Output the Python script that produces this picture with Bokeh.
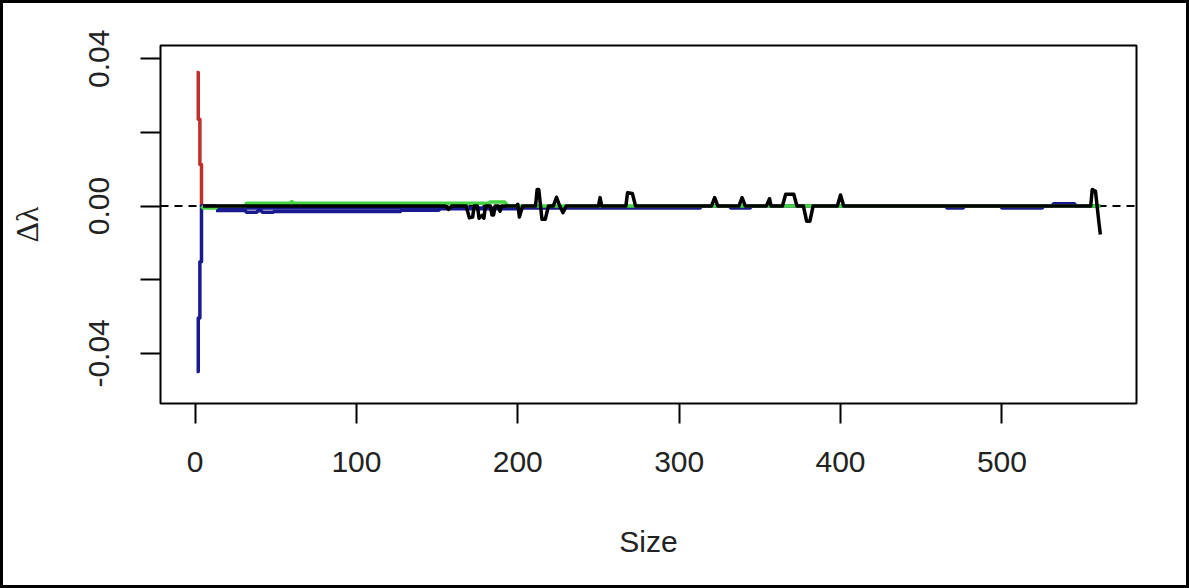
from bokeh.plotting import figure
from bokeh.models import Range1d, Span, FixedTicker
from bokeh.embed import file_html
from bokeh.resources import INLINE

# ---- data ----
red_x = [1, 2, 2, 3, 3, 4, 4, 5]
red_y = [0.0363, 0.0363, 0.0236, 0.0236, 0.0113, 0.0113, 0.0, 0.0]

blue_x = [1, 2, 2, 3, 3, 4, 4, 5, 13, 14, 313, 314, 331, 332, 344, 345, 465, 466,
          476, 477, 499, 500, 525, 526, 531, 532, 545, 546, 561]
blue_y = [-0.0449, -0.0449, -0.0304, -0.0304, -0.0151, -0.0151, 0.0, 0.0, 0.0,
          -0.0005, -0.0005, 0.0, 0.0, -0.0005, -0.0005, 0.0, 0.0, -0.0005, -0.0005,
          0.0, 0.0, -0.0005, -0.0005, 0.0, 0.0, 0.0006, 0.0006, 0.0, 0.0]

blue2_x = [13, 31, 32, 38, 39, 41, 42, 48, 49, 127, 128, 151, 152, 200, 201]
blue2_y = [-0.0012, -0.0012, -0.0017, -0.0017, -0.0013, -0.0013, -0.0017, -0.0017,
           -0.0015, -0.0015, -0.0011, -0.0011, -0.0007, -0.0007, 0.0]

green_x = [4, 5, 13, 14, 31, 32, 59, 60, 61, 150, 182, 183, 192, 194, 561]
green_y = [0.0, -0.0005, -0.0005, 0.0, 0.0, 0.0008, 0.0008, 0.0012, 0.0008, 0.0008,
           0.0008, 0.0011, 0.0011, 0.0, 0.0]

black_x = [5, 155, 157, 159, 168, 170, 172, 173, 175, 176, 178, 179, 180, 183, 184,
           185, 186, 188, 189, 190, 199, 200, 201, 203, 211, 212, 213, 215, 217, 219,
           222, 224, 226, 228, 230, 250, 251, 252, 267, 268, 271, 273, 320, 322, 324,
           337, 339, 341, 354, 356, 357, 364, 366, 371, 373, 377, 379, 381, 383, 398,
           400, 402, 555, 556, 558, 559, 560, 561]
black_y = [0.0, 0.0, -0.0009, 0.0, 0.0, -0.0032, -0.0030, 0.0, 0.0, -0.0033, -0.0025,
           -0.0033, 0.0, 0.0, -0.0024, -0.0024, 0.0, 0.0, -0.0014, 0.0, 0.0, 0.0005,
           -0.0030, 0.0, 0.0, 0.0045, 0.0045, -0.0036, -0.0036, 0.0, 0.0, 0.0024, 0.0,
           -0.0018, 0.0, 0.0, 0.0023, 0.0, 0.0, 0.0036, 0.0034, 0.0, 0.0, 0.0023, 0.0,
           0.0, 0.0023, 0.0, 0.0, 0.0020, 0.0, 0.0, 0.0032, 0.0032, 0.0, 0.0, -0.0041,
           -0.0041, 0.0, 0.0, 0.0030, 0.0, 0.0, 0.0045, 0.0040, 0.0, -0.0040, -0.0077]

x_ticks = [0, 100, 200, 300, 400, 500]
y_ticks = [-0.04, -0.02, 0.0, 0.02, 0.04]
y_tick_labels = {-0.04: "-0.04", -0.02: "", 0.0: "0.00", 0.02: "", 0.04: "0.04"}

B = 3  # width of the frame round the whole picture
p = figure(width=1189 - 2 * B, height=588 - 2 * B, output_backend="svg",
           toolbar_location=None,
           x_range=Range1d(-21.4, 583.4), y_range=Range1d(-0.0536, 0.0436),
           min_border_left=157, min_border_right=56, min_border_top=42,
           min_border_bottom=188)
p.styles = {"border": f"{B}px solid black", "box-sizing": "content-box"}
p.background_fill_color = "white"
p.border_fill_color = "white"
p.grid.visible = False
p.outline_line_color = "black"
p.outline_line_width = 2

zero = Span(location=0, dimension="width", line_color="black", line_width=2,
            line_dash="8 6", level="underlay")
p.add_layout(zero)

lw = 3.5
p.line(red_x, red_y, line_color="#c0302a", line_width=lw, line_join="round")
p.line(blue_x, blue_y, line_color="#1a1a90", line_width=lw, line_join="round")
p.line(blue2_x, blue2_y, line_color="#1a1a90", line_width=lw, line_join="round")
p.line(green_x, green_y, line_color="#44d444", line_width=lw, line_join="round")
p.line(black_x, black_y, line_color="black", line_width=lw, line_join="round")

font = "Liberation Sans"
xa = p.xaxis[0]
xa.ticker = FixedTicker(ticks=x_ticks)
xa.axis_label = "Size"
ya = p.yaxis[0]
ya.ticker = FixedTicker(ticks=y_ticks)
ya.major_label_overrides = y_tick_labels
ya.axis_label = "Δλ"
ya.major_label_orientation = "vertical"

for ax in (xa, ya):
    ax.axis_line_color = None
    ax.major_tick_line_color = "black"
    ax.major_tick_line_width = 2
    ax.major_tick_out = 20
    ax.major_tick_in = 0
    ax.minor_tick_line_color = None
    ax.major_label_text_font = font
    ax.major_label_text_font_size = "30px"
    ax.major_label_text_color = "#222222"
    ax.axis_label_text_font_style = "normal"
    ax.axis_label_text_color = "#222222"

xa.major_label_standoff = 28
xa.axis_label_text_font = font
xa.axis_label_text_font_size = "30px"
xa.axis_label_standoff = 50
ya.major_label_standoff = 31
ya.axis_label_text_font = "Liberation Serif"
ya.axis_label_text_font_size = "32px"
ya.axis_label_standoff = 42

open("out.html", "w").write(file_html(p, INLINE))
